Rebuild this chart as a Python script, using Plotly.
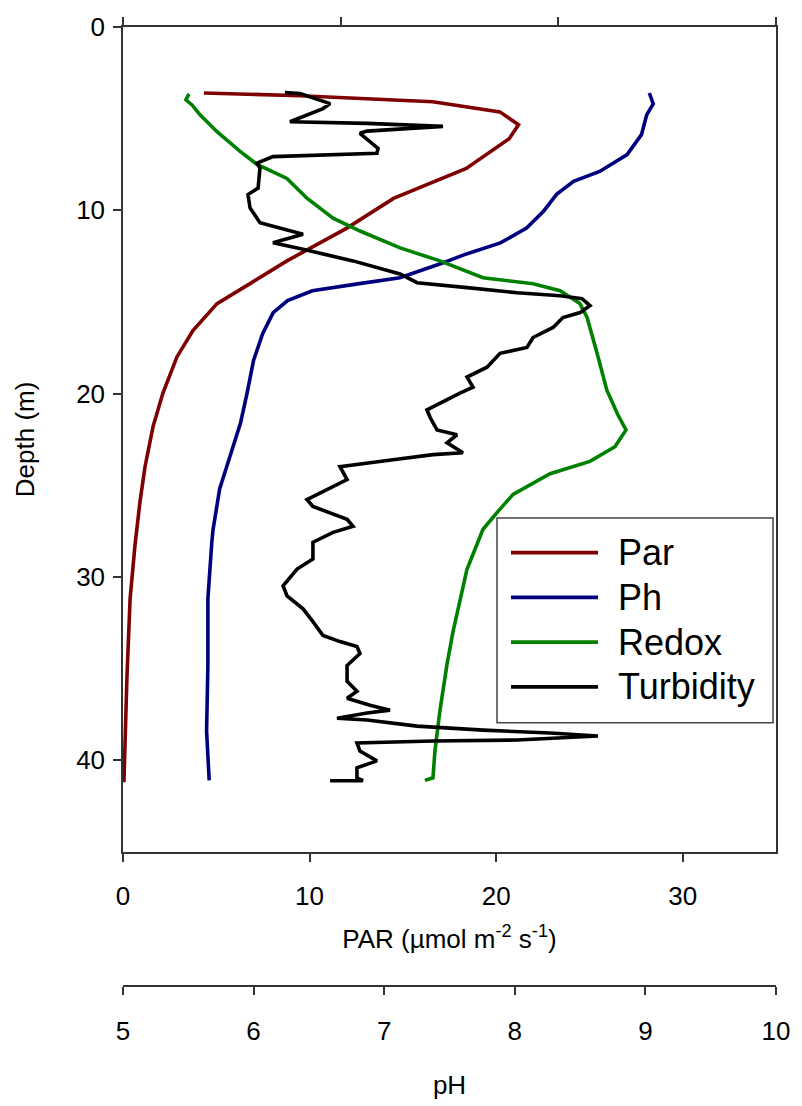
import plotly.graph_objects as go

# ---------------- data ----------------
par_depth = [3.60, 3.75, 4.08, 4.63, 5.33, 6.09, 7.72, 9.35, 10.97, 12.20, 12.76, 14.00,
             15.09, 16.56, 18.00, 19.97, 21.80, 23.99, 25.90, 28.30, 31.20, 35.50, 38.80, 41.20]
par_values = [4.34, 9.50, 16.60, 20.20, 21.20, 20.70, 18.40, 14.50, 12.00, 9.86, 8.79, 6.81,
              5.04, 3.75, 2.89, 2.14, 1.61, 1.18, 0.91, 0.64, 0.38, 0.21, 0.10, 0.05]

ph_depth = [3.60, 4.19, 4.79, 5.87, 6.96, 7.88, 8.42, 9.13, 10.05, 10.97, 11.78, 12.38, 12.92,
            13.68, 14.00, 14.39, 14.93, 15.58, 16.72, 18.18, 19.97, 21.60, 23.40, 25.20, 27.40,
            28.10, 31.20, 34.80, 38.40, 41.10]
ph_values = [9.03, 9.06, 9.01, 8.97, 8.86, 8.65, 8.45, 8.32, 8.22, 8.09, 7.89, 7.63, 7.43,
             7.12, 6.81, 6.45, 6.26, 6.15, 6.07, 6.00, 5.95, 5.90, 5.82, 5.74, 5.69,
             5.68, 5.65, 5.65, 5.64, 5.66]

redox_depth = [3.65, 3.97, 4.25, 4.79, 5.71, 6.79, 7.50, 8.26, 9.34, 10.43, 11.13, 12.05, 12.76,
               13.68, 14.01, 14.39, 15.09, 15.85, 17.80, 19.81, 21.17, 21.98, 22.90, 23.70,
               24.37, 25.50, 26.30, 27.40, 29.60, 31.20, 33.00, 34.80, 37.30, 39.50, 40.96, 41.10]
redox_values = [30.3, 28.9, 31.7, 35.4, 43.2, 53.8, 61.6, 75.3, 84.5, 96.5, 108.9, 127.3, 145.6,
                165.4, 188.4, 200.8, 209.9, 213.2, 217.8, 222.3, 227.4, 231.1, 226.0, 214.5,
                196.2, 179.2, 173.2, 165.4, 158.0, 154.8, 151.6, 148.8, 145.6, 143.3, 142.4, 138.7]

turb_depth = [3.58, 3.63, 4.18, 4.45, 5.17, 5.26, 5.42, 5.68, 5.80, 6.62, 6.89, 7.07, 7.43, 7.70,
              8.79, 9.14, 9.87, 10.41, 10.68, 11.31, 11.77, 12.13, 12.76, 13.47, 13.95, 14.22,
              14.50, 14.66, 14.82, 15.20, 15.58, 15.85, 16.39, 16.94, 17.48, 17.80, 18.56, 19.10,
              19.65, 19.97, 20.52, 20.89, 21.28, 21.98, 22.25, 22.68, 23.23, 23.33, 23.61, 23.99,
              24.69, 25.78, 26.16, 26.86, 27.24, 27.57, 28.11, 29.03, 29.57, 30.49, 31.04, 31.74,
              32.44, 33.20, 33.53, 33.80, 34.18, 34.83, 35.70, 36.24, 36.62, 37.00, 37.27, 37.43,
              37.71, 37.81, 38.14, 38.36, 38.52, 38.68, 38.90, 38.95, 39.06, 39.50, 40.04, 40.42,
              40.96, 41.12, 41.12]
turb_values = [8.68, 9.49, 11.10, 10.72, 8.95, 13.08, 17.15, 13.08, 12.70, 13.67, 13.61, 8.04, 7.18, 7.34,
               7.24, 6.70, 6.81, 7.18, 7.34, 9.65, 8.04, 9.65, 12.33, 14.85, 15.76, 18.44,
               21.12, 23.42, 24.60, 25.03, 24.50, 23.58, 23.05, 21.98, 21.65, 20.21, 19.51, 18.44,
               18.76, 18.06, 16.99, 16.29, 16.45, 16.83, 17.90, 17.37, 18.22, 16.62, 14.47, 11.63,
               12.01, 9.86, 10.18, 12.01, 12.33, 11.26, 10.18, 10.18, 9.33, 8.58, 8.79, 9.65,
               10.18, 10.72, 11.63, 12.54, 12.70, 12.01, 12.01, 12.54, 12.01, 13.24, 14.31, 13.08,
               11.47, 13.08, 15.76, 19.30, 22.89, 25.46, 21.12, 16.62, 12.54, 12.70, 13.61, 12.54,
               12.54, 12.86, 11.10]

depth_ticks = [0, 10, 20, 30, 40]
par_ticks = [0, 10, 20, 30]
ph_ticks = [5, 6, 7, 8, 9, 10]
redox_ticks = [0, 100, 200, 300]

series_names = ["Par", "Ph", "Redox", "Turbidity"]
series_colors = ["#7f0000", "#00007f", "#008000", "#000000"]

# ---------------- layout geometry ----------------
W, H = 802, 1106
L, R, T, B = 123, 26, 25, 116
PH_AXIS_Y = 990
PLOT_BOTTOM = 855
paper_h = H - T - B
y_dom0 = (PH_AXIS_Y - PLOT_BOTTOM) / paper_h

FONT = "Liberation Sans, Arial, sans-serif"
AX_COL = "#333333"
TICK_SIZE = 26
TITLE_SIZE = 26
LW = 3.6

fig = go.Figure()
fig.add_trace(go.Scatter(x=par_values, y=par_depth, name=series_names[0], xaxis="x", yaxis="y",
                         mode="lines", line=dict(color=series_colors[0], width=LW)))
fig.add_trace(go.Scatter(x=ph_values, y=ph_depth, name=series_names[1], xaxis="x2", yaxis="y",
                         mode="lines", line=dict(color=series_colors[1], width=LW)))
fig.add_trace(go.Scatter(x=redox_values, y=redox_depth, name=series_names[2], xaxis="x3", yaxis="y",
                         mode="lines", line=dict(color=series_colors[2], width=LW)))
fig.add_trace(go.Scatter(x=turb_values, y=turb_depth, name=series_names[3], xaxis="x4", yaxis="y",
                         mode="lines", line=dict(color=series_colors[3], width=LW)))

axis_common = dict(showgrid=False, zeroline=False, showline=True, linecolor=AX_COL, linewidth=1.5,
                   ticks="outside", ticklen=8, tickwidth=1.5, tickcolor=AX_COL,
                   tickfont=dict(size=TICK_SIZE, color="black", family=FONT))

fig.update_layout(
    width=W, height=H,
    margin=dict(l=L, r=R, t=T, b=B),
    paper_bgcolor="white", plot_bgcolor="white",
    showlegend=False,
    font=dict(family=FONT, color="black"),
    yaxis=dict(**axis_common, domain=[y_dom0, 1], range=[45, 0], tickvals=depth_ticks,
               mirror=True, anchor="x", ticklabelstandoff=3,
               title=dict(text="Depth (m)", font=dict(size=TITLE_SIZE), standoff=34)),
    xaxis=dict(**axis_common, range=[0, 35], tickvals=par_ticks, anchor="y", side="bottom",
               ticklabelstandoff=12,
               title=dict(text="PAR (µmol m<sup>-2</sup> s<sup>-1</sup>)", font=dict(size=TITLE_SIZE),
                          standoff=20)),
    xaxis2=dict(**axis_common, range=[5, 10], tickvals=ph_ticks, anchor="free", position=0,
                overlaying="x", side="bottom", ticklabelstandoff=14,
                title=dict(text="pH", font=dict(size=TITLE_SIZE), standoff=30)),
    xaxis3=dict(**axis_common, range=[0, 300], tickvals=redox_ticks, anchor="y", overlaying="x",
                side="top", showticklabels=False),
    xaxis4=dict(range=[0, 35], overlaying="x", anchor="y", visible=False),
)

# ---------------- custom legend ----------------
def px_x(px):
    return (px - L) / (W - L - R)

def px_y(py):
    return (PH_AXIS_Y - py) / paper_h

fig.add_shape(type="rect", xref="paper", yref="paper",
              x0=px_x(497), x1=px_x(773), y0=px_y(725), y1=px_y(519),
              line=dict(color="#444444", width=1.5), fillcolor="white", layer="above")
for i, (nm, col) in enumerate(zip(series_names, series_colors)):
    yy = 554 + i * 45
    fig.add_shape(type="line", xref="paper", yref="paper",
                  x0=px_x(511), x1=px_x(598), y0=px_y(yy), y1=px_y(yy),
                  line=dict(color=col, width=3.8), layer="above")
    fig.add_annotation(xref="paper", yref="paper", x=px_x(616), y=px_y(yy), text=nm,
                       xanchor="left", yanchor="middle", showarrow=False,
                       font=dict(size=36, color="black", family=FONT))

fig.write_html("out.html")
